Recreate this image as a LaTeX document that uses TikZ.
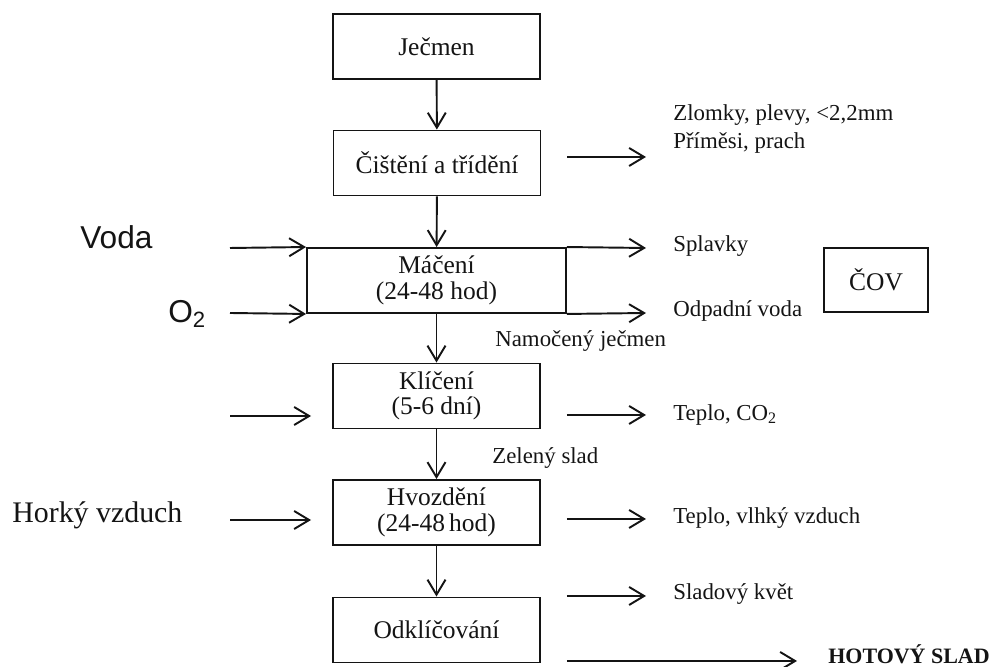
\documentclass[tikz,border=0pt]{standalone}
\usepackage{fontspec}
\setmainfont{Liberation Serif}
\newfontfamily\arialfont{Liberation Sans}
\usepackage{tikz}
\usetikzlibrary{arrows.meta,calc}
\definecolor{ink}{gray}{0.08}
\tikzset{
  stage/.style={draw=ink, line width=1.1pt, align=center, inner sep=2pt,
                minimum width=41.4mm, minimum height=13mm, text=ink,
                font=\fontsize{14.5}{14.5}\selectfont},
  flow/.style={-{Straight Barb[length=3mm,width=3.6mm]}, draw=ink, line width=1.1pt},
  side/.style={flow, shorten <=5.2mm},
  lbl/.style={anchor=west, inner sep=0pt, align=left, text=ink,
              font=\fontsize{13}{15.6}\selectfont},
  big/.style={anchor=west, inner sep=0pt, text=ink},
}

\begin{document}
\begin{tikzpicture}
    \useasboundingbox (0,0) rectangle (19.94,13.34);
    % main chain
    \node[stage] (jecmen)   at (8.73,12.41) {Ječmen};
    \node[stage] (cisteni)  at (8.74,10.08) {Čištění a třídění};
    \node[stage, minimum width=51.8mm] (maceni) at (8.73,7.73) {Máčení\\(24-48 hod)};
    \node[stage] (kliceni)  at (8.73,5.42)  {Klíčení\\(5-6 dní)};
    \node[stage] (hvozdeni) at (8.73,3.09)  {Hvozdění\\(24-48\,hod)};
    \node[stage] (odklic)   at (8.73,0.74)  {Odklíčování};
    \node[stage, minimum width=20.8mm, minimum height=12.8mm] (cov) at (17.52,7.74) {ČOV};

    % inputs
    \node[big, font=\arialfont\fontsize{18}{18}\selectfont] (voda)   at (1.60,8.60) {Voda};
    \node[big, font=\arialfont\fontsize{18}{18}\selectfont] (kyslik) at (3.36,7.06) {O\textsubscript{2}};
    \node[big, font=\fontsize{17}{17}\selectfont] (horky) at (0.24,3.04) {Horký vzduch};

    % outputs
    \node[lbl] (zlomky)  at (13.46,10.76) {Zlomky, plevy, <2,2mm\\Příměsi, prach};
    \node[lbl] (splavky) at (13.46,8.42)  {Splavky};
    \node[lbl] (odpad)   at (13.46,7.12)  {Odpadní voda};
    \node[lbl] (namoc)   at (9.90,6.52)   {Namočený ječmen};
    \node[lbl] (teplo)   at (13.46,5.04)  {Teplo, CO\textsubscript{2}};
    \node[lbl] (zeleny)  at (9.84,4.18)   {Zelený slad};
    \node[lbl] (vlhky)   at (13.46,2.98)  {Teplo, vlhký vzduch};
    \node[lbl] (kvet)    at (13.46,1.46)  {Sladový květ};
    \node[lbl, font=\fontsize{12.5}{13}\selectfont\bfseries] (hotovy) at (16.56,0.26) {HOTOVÝ SLAD};

    \coordinate (vin)  at (4.60,8.38);
    \coordinate (oin)  at (4.60,7.08);
    \coordinate (kin)  at (4.60,5.02);
    \coordinate (hin)  at (4.60,2.94);
    \coordinate (cout) at (12.92,10.20);
    \coordinate (sout) at (12.92,8.38);
    \coordinate (wout) at (12.92,7.08);
    \coordinate (kout) at (12.92,5.04);
    \coordinate (hout) at (12.92,2.96);
    \coordinate (fout) at (12.92,1.42);
    \coordinate (slad) at (15.94,0.12);

    \draw[flow] (jecmen) -- (cisteni);
    \draw[flow] (cisteni) -- (maceni);
    \draw[flow] (maceni) -- (kliceni);
    \draw[flow] (kliceni) -- (hvozdeni);
    \draw[flow] (hvozdeni) -- (odklic);

    \draw[flow] (vin) -- (maceni.north west);
    \draw[flow] (oin) -- (maceni.south west);
    \draw[flow, shorten >=4.2mm] (kin) -- (kliceni.west |- kin);
    \draw[flow, shorten >=4.2mm] (hin) -- (hvozdeni.west |- hin);

    \draw[side] (cisteni.east |- cout) -- (cout);
    \draw[flow] (maceni.north east) -- (sout);
    \draw[flow] (maceni.south east) -- (wout);
    \draw[side] (kliceni.east |- kout) -- (kout);
    \draw[side] (hvozdeni.east |- hout) -- (hout);
    \draw[side] (odklic.east |- fout) -- (fout);
    \draw[side] (odklic.east |- slad) -- (slad);
\end{tikzpicture}
\end{document}
